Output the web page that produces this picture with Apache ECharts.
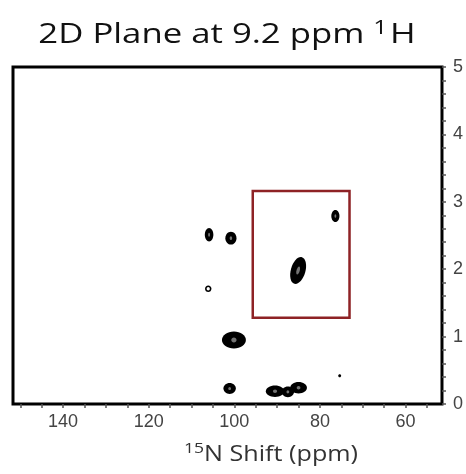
<!DOCTYPE html>
<html>
<head>
<meta charset="utf-8">
<script src="https://cdn.jsdelivr.net/npm/echarts@6/dist/echarts.min.js"></script>
<style>html,body{margin:0;padding:0;background:#fff;}#c{width:466px;height:474px;}</style>
</head>
<body>
<div id="c"></div>
<script>
// Peak data: 15N shift (ppm), 1H value, linewidths (ppm), tilt (deg), ring flag
var peakN   = [105.9, 100.8, 106.1, 85.1, 76.4, 100.1, 75.4, 101.1, 90.5, 87.5, 85.0];
var peakH   = [2.51, 2.46, 1.71, 1.98, 2.79, 0.95, 0.42, 0.23, 0.19, 0.18, 0.24];
var widthN  = [2.0, 2.6, 1.5, 3.4, 1.9, 5.6, 0.7, 2.9, 4.3, 2.9, 3.9];
var widthH  = [0.20, 0.19, 0.10, 0.41, 0.18, 0.25, 0.045, 0.16, 0.17, 0.16, 0.17];
var tilt    = [0, 0, 0, -16, 0, 0, 0, 0, 0, 0, 0];
var ring    = [0, 0, 1, 0, 0, 0, 0, 0, 0, 0, 0];
// Highlighted region
var boxN = [95.7, 73.1];
var boxH = [1.28, 3.16];
// Axis ticks
var xLabels = [60, 80, 100, 120, 140];
var xTicks = [55, 60, 65, 70, 75, 80, 85, 90, 95, 100, 105, 110, 115, 120, 125, 130, 135, 140, 145, 150];
var xMin = 51.5, xMax = 151.7;
var yMin = 0, yMax = 5;

var peakData = peakN.map(function (n, i) {
  return [n, peakH[i], widthN[i], widthH[i], tilt[i], ring[i]];
});

var chart = echarts.init(document.getElementById('c'));
chart.setOption({
  animation: false,
  backgroundColor: '#fff',
  grid: { left: 13, right: 23, top: 67, bottom: 70, show: true, borderColor: '#000', borderWidth: 3, backgroundColor: 'transparent' },
  xAxis: {
    type: 'value', inverse: true, min: xMin, max: xMax,
    axisLine: { show: false },
    splitLine: { show: false },
    axisTick: { show: true, customValues: xTicks, length: 4, lineStyle: { color: '#555', width: 1.5 } },
    axisLabel: { customValues: xLabels, margin: 9, fontSize: 18, color: '#444', fontFamily: 'Liberation Sans' }
  },
  yAxis: {
    type: 'value', position: 'right', min: yMin, max: yMax, interval: 1,
    axisLine: { show: false },
    splitLine: { show: false },
    axisTick: { show: true, length: 4, lineStyle: { color: '#555', width: 1.5 } },
    minorTick: { show: true, splitNumber: 5, length: 4, lineStyle: { color: '#555', width: 1.5 } },
    axisLabel: { margin: 11, fontSize: 18, color: '#444', fontFamily: 'Liberation Sans', verticalAlign: 'middle', padding: [0, 0, 10, 0] }
  },
  graphic: [
    { type: 'text', x: 227, y: 35, scaleX: 1.24, style: {
        text: '{m|2D Plane at 9.2 ppm }{s|1}{m|H}', align: 'center', verticalAlign: 'middle',
        rich: {
          m: { fontSize: 28, fontFamily: 'Open Sans', fill: '#111', lineHeight: 34 },
          s: { fontSize: 20, fontFamily: 'Open Sans', fill: '#111', lineHeight: 34, padding: [0, 2, 14, 0] }
        } } },
    { type: 'text', x: 271, y: 455, scaleX: 1.17, style: {
        text: '{s|15}{m|N Shift (ppm)}', align: 'center', verticalAlign: 'middle',
        rich: {
          m: { fontSize: 21.5, fontFamily: 'Open Sans', fill: '#333', lineHeight: 26 },
          s: { fontSize: 15, fontFamily: 'Open Sans', fill: '#333', lineHeight: 26, padding: [0, 0, 12, 0] }
        } } }
  ],
  series: [
    {
      type: 'custom',
      coordinateSystem: 'cartesian2d',
      data: peakData,
      encode: { x: 0, y: 1 },
      renderItem: function (params, api) {
        var c = api.coord([api.value(0), api.value(1)]);
        var s = api.size([api.value(2), api.value(3)]);
        var rx = Math.abs(s[0]) / 2, ry = Math.abs(s[1]) / 2;
        var isRing = api.value(5) === 1;
        var children = [
          { type: 'ellipse', shape: { cx: 0, cy: 0, rx: rx, ry: ry }, style: { fill: '#000' } }
        ];
        if (isRing) {
          children.push({ type: 'ellipse', shape: { cx: 0, cy: 0, rx: rx * 0.5, ry: ry * 0.5 }, style: { fill: '#fff' } });
        } else if (rx > 3) {
          children.push({ type: 'ellipse', shape: { cx: 0, cy: 0, rx: Math.max(rx * 0.22, 0.8), ry: ry * 0.3 }, style: { fill: '#fff', opacity: 0.45 } });
        }
        return { type: 'group', x: c[0], y: c[1], rotation: api.value(4) * Math.PI / 180, children: children };
      },
      markArea: {
        silent: true,
        itemStyle: { color: 'rgba(0,0,0,0)', borderColor: '#8e2225', borderWidth: 2.5 },
        data: [[{ coord: [boxN[0], boxH[1]] }, { coord: [boxN[1], boxH[0]] }]]
      },
      z: 3
    }
  ]
});
</script>
</body>
</html>
